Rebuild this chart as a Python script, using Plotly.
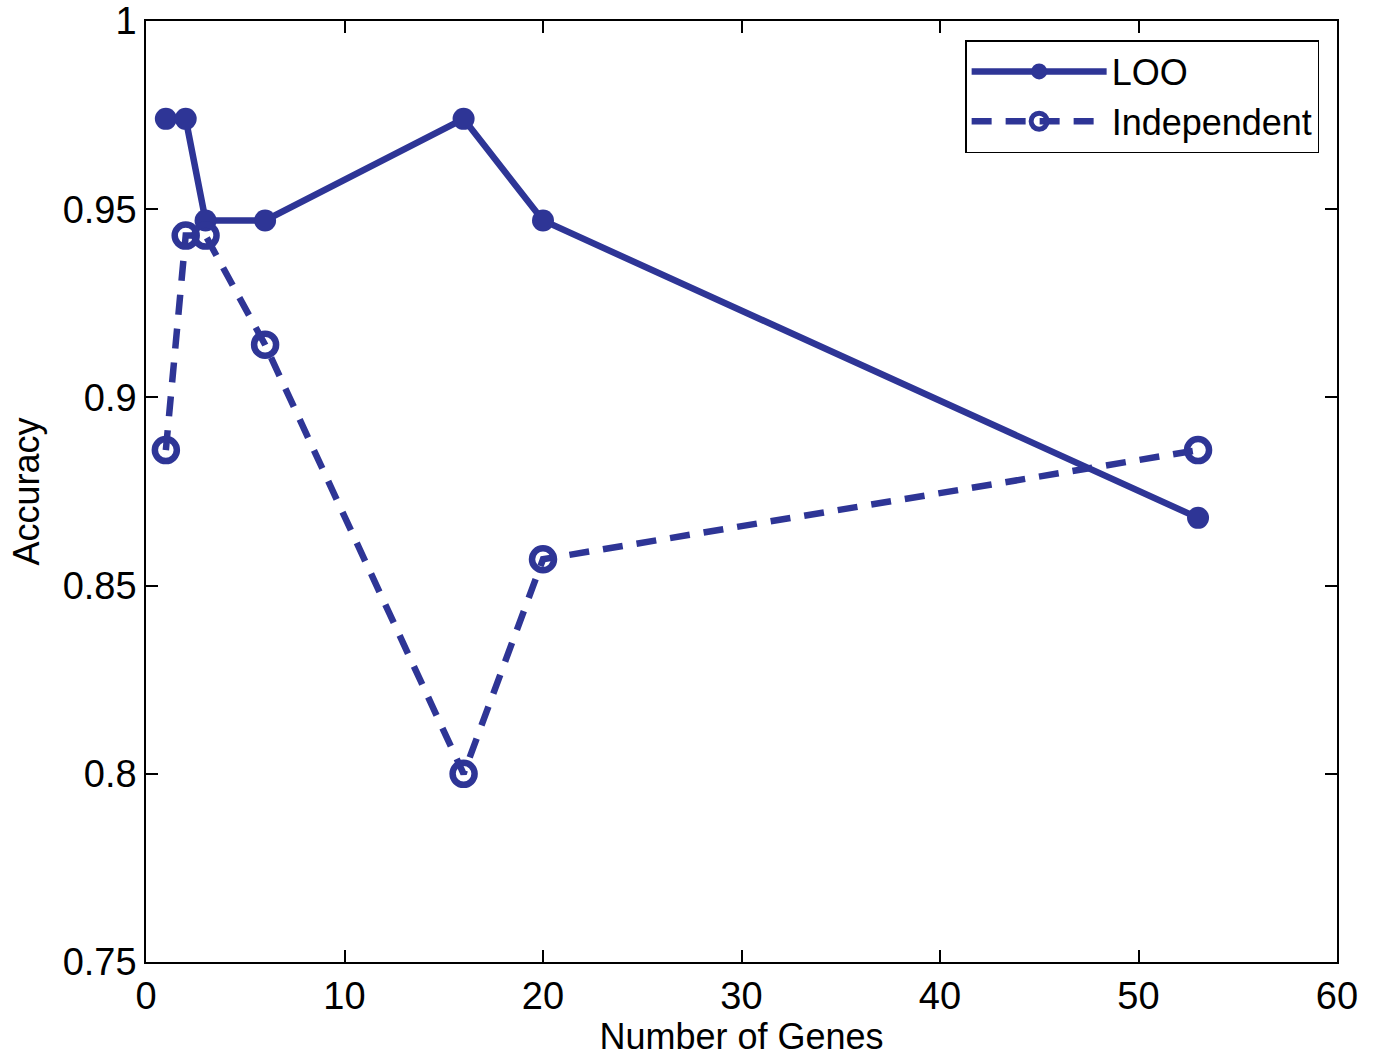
import plotly.graph_objects as go

genes = [1, 2, 3, 6, 16, 20, 53]
loo = [0.974, 0.974, 0.947, 0.947, 0.974, 0.947, 0.868]
independent = [0.886, 0.943, 0.943, 0.914, 0.800, 0.857, 0.886]
x_ticks = [0, 10, 20, 30, 40, 50, 60]
y_ticks = [0.75, 0.8, 0.85, 0.9, 0.95, 1.0]
y_tick_text = ["0.75", "0.8", "0.85", "0.9", "0.95", "1"]

color = "#2e3596"
fam = "Liberation Sans, Arial, sans-serif"
tick_font = dict(family=fam, size=38, color="black")
title_font = dict(family=fam, size=36, color="black")

fig = go.Figure()
fig.add_trace(go.Scatter(
    x=genes, y=loo, name="LOO", mode="lines+markers",
    line=dict(color=color, width=6.5),
    marker=dict(symbol="circle", size=22, color=color),
))
fig.add_trace(go.Scatter(
    x=genes, y=independent, name="Independent", mode="lines+markers",
    line=dict(color=color, width=6.5, dash="20px,14px"),
    marker=dict(symbol="circle-open", size=22, color=color, line=dict(width=6.5, color=color)),
))

axis_common = dict(
    showgrid=False, zeroline=False, showline=True, linecolor="black", linewidth=1.5,
    mirror="ticks", ticks="inside", ticklen=12, tickwidth=1.5, tickcolor="black",
    tickfont=tick_font, automargin=False,
)
fig.update_xaxes(range=[0, 60], tickvals=x_ticks,
                 title=dict(text="Number of Genes", font=title_font, standoff=2), **axis_common)
fig.update_yaxes(range=[0.75, 1.0], tickvals=y_ticks, ticktext=y_tick_text,
                 title=dict(text="Accuracy", font=title_font, standoff=12), **axis_common)

fig.update_layout(
    template="none",
    width=1374, height=1057,
    margin=dict(l=146, r=37, t=21, b=95, autoexpand=False),
    plot_bgcolor="white", paper_bgcolor="white",
    font=title_font,
    showlegend=True,
    legend=dict(x=0.985, y=0.9798, xanchor="right", yanchor="top",
                bgcolor="white", bordercolor="black", borderwidth=1.5,
                font=title_font, tracegroupgap=0, itemwidth=135),
)

fig.write_html("out.html", config={"displayModeBar": False},
               post_script="document.body.style.margin='0';")
